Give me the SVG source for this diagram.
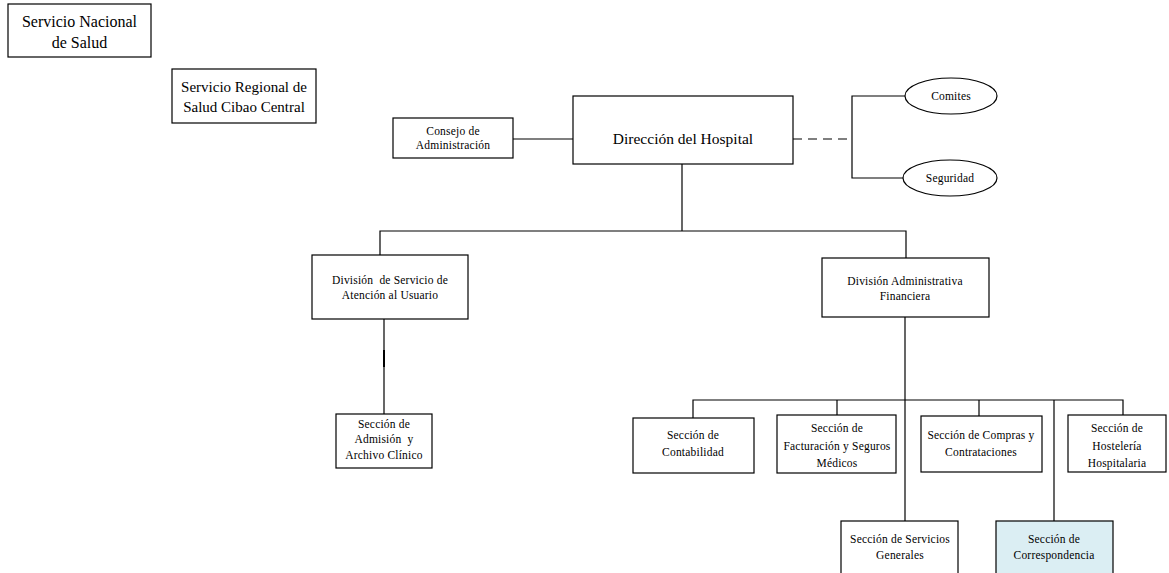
<svg xmlns="http://www.w3.org/2000/svg" width="1169" height="573" viewBox="0 0 1169 573">
<style>
.box{fill:#fff;stroke:#000;stroke-width:1.2}
.ln{fill:none;stroke:#000;stroke-width:1.2}
text{font-family:"Liberation Serif","Times New Roman",serif;fill:#000;text-anchor:middle}
.s{font-size:11.5px;letter-spacing:0.2px}
.m{font-size:15px}
.l{font-size:16px}
</style>
<rect width="1169" height="573" fill="#fff"/>
<g id="connectors">
<path class="ln" d="M513 139H573"/>
<path class="ln" d="M793 139H852" stroke-dasharray="9,6" stroke-width="1.5"/>
<path class="ln" d="M905 96H852V178H904"/>
<path class="ln" d="M682 164V231"/>
<path class="ln" d="M380 255V231H906V258"/>
<path class="ln" d="M384 319V414"/>
<path d="M384 350V367" stroke="#000" stroke-width="2"/>
<path class="ln" d="M905 317V521"/>
<path class="ln" d="M693 418V400H1123V415"/>
<path class="ln" d="M837 400V415"/>
<path class="ln" d="M979 400V416"/>
<path class="ln" d="M1054 400V521"/>
</g>
<g id="nacional"><rect class="box" x="8" y="4" width="143" height="53"/><text class="l" x="79.500" y="27">Servicio Nacional</text><text class="l" x="79.500" y="48">de Salud</text></g>
<g id="regional"><rect class="box" x="172" y="69" width="144" height="54"/><text class="m" x="244" y="92">Servicio Regional de</text><text class="m" x="244" y="112">Salud Cibao Central</text></g>
<g id="consejo"><rect class="box" x="393" y="118" width="120" height="40"/><text class="s" x="453" y="135">Consejo de</text><text class="s" x="453" y="149">Administración</text></g>
<g id="direccion"><rect class="box" x="573" y="96" width="220" height="68"/><text class="l" x="683" y="144" style="font-size:15.5px">Dirección del Hospital</text></g>
<g id="comites"><ellipse class="box" cx="951" cy="96" rx="46" ry="18"/><text class="s" x="951" y="100">Comites</text></g>
<g id="seguridad"><ellipse class="box" cx="950" cy="178" rx="47" ry="18"/><text class="s" x="950" y="182">Seguridad</text></g>
<g id="div-usuario"><rect class="box" x="312" y="255" width="156" height="64"/><text class="s" x="390" y="284" xml:space="preserve">División  de Servicio de</text><text class="s" x="390" y="299">Atención al Usuario</text></g>
<g id="div-admin"><rect class="box" x="822" y="258" width="167" height="59"/><text class="s" x="905" y="285">División Administrativa</text><text class="s" x="905" y="300">Financiera</text></g>
<g id="admision"><rect class="box" x="336" y="414" width="96" height="54"/><text class="s" x="384" y="428">Sección de</text><text class="s" x="384" y="443" xml:space="preserve">Admisión  y</text><text class="s" x="384" y="459">Archivo Clínico</text></g>
<g id="contabilidad"><rect class="box" x="633" y="418" width="121" height="55"/><text class="s" x="693" y="439">Sección de</text><text class="s" x="693" y="456">Contabilidad</text></g>
<g id="facturacion"><rect class="box" x="777" y="415" width="119" height="58"/><text class="s" x="837" y="432">Sección de</text><text class="s" x="837" y="450">Facturación y Seguros</text><text class="s" x="837" y="467">Médicos</text></g>
<g id="compras"><rect class="box" x="921" y="416" width="121" height="56"/><text class="s" x="981" y="439">Sección de Compras y</text><text class="s" x="981" y="456">Contrataciones</text></g>
<g id="hosteleria"><rect class="box" x="1068" y="415" width="98" height="57"/><text class="s" x="1117" y="432">Sección de</text><text class="s" x="1117" y="450">Hostelería</text><text class="s" x="1117" y="467">Hospitalaria</text></g>
<g id="servicios"><rect class="box" x="841" y="521" width="117" height="60"/><text class="s" x="900" y="543">Sección de Servicios</text><text class="s" x="900" y="559">Generales</text></g>
<g id="correspondencia"><rect class="box" x="996" y="521" width="117" height="60" style="fill:#DBEEF3"/><text class="s" x="1054" y="543">Sección de</text><text class="s" x="1054" y="559">Correspondencia</text></g>
</svg>
